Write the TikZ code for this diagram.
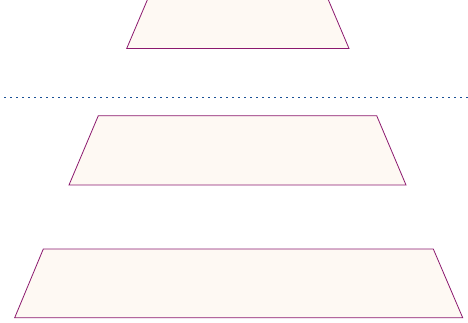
\documentclass[tikz,border=0pt]{standalone}
\usetikzlibrary{calc}
\definecolor{edgec}{RGB}{140,25,110}
\definecolor{fillc}{RGB}{254,249,243}
\definecolor{dotc}{RGB}{25,80,150}
\tikzset{
  layer/.style={draw=edgec, fill=fillc, line width=0.8pt, line join=miter},
  sep/.style={draw=dotc, line width=1.8pt, dash pattern=on 1.8pt off 4.2pt}
}
\begin{document}
\begin{tikzpicture}[x=1pt,y=-1pt]
\useasboundingbox (0,0) rectangle (468,323);
% top layer (cut by the frame)
\coordinate (t1) at (156,-20.5);
\coordinate (t2) at (319.7,-20.5);
\coordinate (t3) at (349,48.5);
\coordinate (t4) at (126.7,48.5);
\path[layer] (t1) -- (t2) -- (t3) -- (t4) -- cycle;
% separator
\coordinate (s1) at (4,97.5);
\coordinate (s2) at (468,97.5);
\draw[sep] (s1) -- (s2);
% middle layer
\coordinate (m1) at (98.3,115.7);
\coordinate (m2) at (376.7,115.7);
\coordinate (m3) at (406,185);
\coordinate (m4) at (69,185);
\path[layer] (m1) -- (m2) -- (m3) -- (m4) -- cycle;
% bottom layer
\coordinate (b1) at (43.3,249);
\coordinate (b2) at (433.3,249);
\coordinate (b3) at (462.7,317.7);
\coordinate (b4) at (14.7,317.7);
\path[layer] (b1) -- (b2) -- (b3) -- (b4) -- cycle;
\end{tikzpicture}
\end{document}
